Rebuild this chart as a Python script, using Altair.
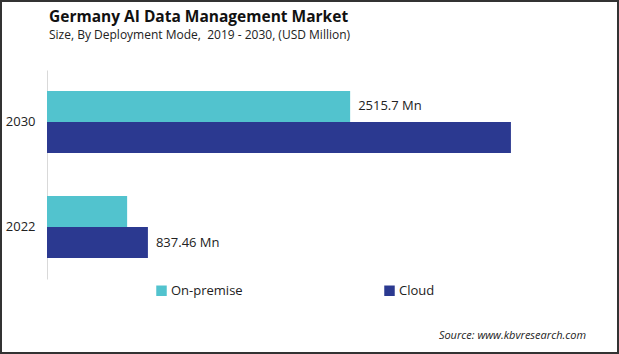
import altair as alt
import pandas as pd

years = ["2030", "2022"]
series = ["On-premise", "Cloud"]
onprem_values = [2515.7, 665.0]
cloud_values = [3850.0, 837.46]
onprem_labels = ["2515.7 Mn", ""]
cloud_labels = ["", "837.46 Mn"]
colors = ["#52C3CE", "#2B3990"]

title_text = "Germany AI Data Management Market"
subtitle_text = "Size, By Deployment Mode,\u00a0 2019 - 2030, (USD Million)"
source_text = "Source: www.kbvresearch.com"

rows = []
for i, y in enumerate(years):
    rows.append({"year": y, "series": "On-premise", "value": onprem_values[i], "label": onprem_labels[i]})
    rows.append({"year": y, "series": "Cloud", "value": cloud_values[i], "label": cloud_labels[i]})
df = pd.DataFrame(rows)

FONT = "Open Sans"

y_enc = alt.Y("year:N", sort=years, title=None,
              scale=alt.Scale(paddingInner=0.41, paddingOuter=0.2),
              axis=alt.Axis(ticks=False, labelFontSize=13, labelColor="#222222",
                            labelPadding=12, domainColor="#d9d9d9", domainWidth=1,
                            labelFont=FONT))
yoff = alt.YOffset("series:N", sort=series)

bars = alt.Chart(df).mark_bar().encode(
    x=alt.X("value:Q", scale=alt.Scale(domain=[0, 4000]), axis=None),
    y=y_enc,
    yOffset=yoff,
    color=alt.Color("series:N", sort=series,
                    scale=alt.Scale(domain=series, range=colors),
                    legend=alt.Legend(title=None, orient="none", legendX=108, legendY=214,
                                      direction="horizontal", columns=2, columnPadding=140,
                                      symbolType="square", symbolSize=110, symbolStrokeWidth=0,
                                      labelFontSize=13, labelFont=FONT, labelColor="#222222",
                                      labelOffset=3)),
)

texts = alt.Chart(df).mark_text(align="left", baseline="middle", dx=8, fontSize=13,
                                font=FONT, color="#222222").encode(
    x=alt.X("value:Q"),
    y=alt.Y("year:N", sort=years),
    yOffset=yoff,
    text="label:N",
)

title = alt.Chart(pd.DataFrame({"t": [title_text]})).mark_text(
    align="left", baseline="alphabetic", fontSize=15.5, fontWeight="bold", font=FONT,
    color="#111111").encode(x=alt.value(2), y=alt.value(-48), text="t:N")

subtitle = alt.Chart(pd.DataFrame({"t": [subtitle_text]})).mark_text(
    align="left", baseline="alphabetic", fontSize=12, font=FONT,
    color="#222222").encode(x=alt.value(2), y=alt.value(-31), text="t:N")

source = alt.Chart(pd.DataFrame({"t": [source_text]})).mark_text(
    align="right", baseline="middle", fontSize=11, fontStyle="italic", font=FONT,
    color="#222222").encode(x=alt.value(539), y=alt.value(266), text="t:N")

border = alt.Chart(pd.DataFrame({"a": [0]})).mark_rect(
    fill="transparent", stroke="#333333", strokeWidth=2).encode(
    x=alt.value(-46), x2=alt.value(571), y=alt.value(-69), y2=alt.value(283))

chart = alt.layer(bars, texts, title, subtitle, source, border).properties(
    width=482, height=209,
    autosize=alt.AutoSizeParams(type="none"),
    padding={"left": 47, "top": 70, "right": 90, "bottom": 75},
    background="white",
).configure_view(stroke=None)

chart.save("out.html", embed_options={"renderer": "svg", "actions": False})
